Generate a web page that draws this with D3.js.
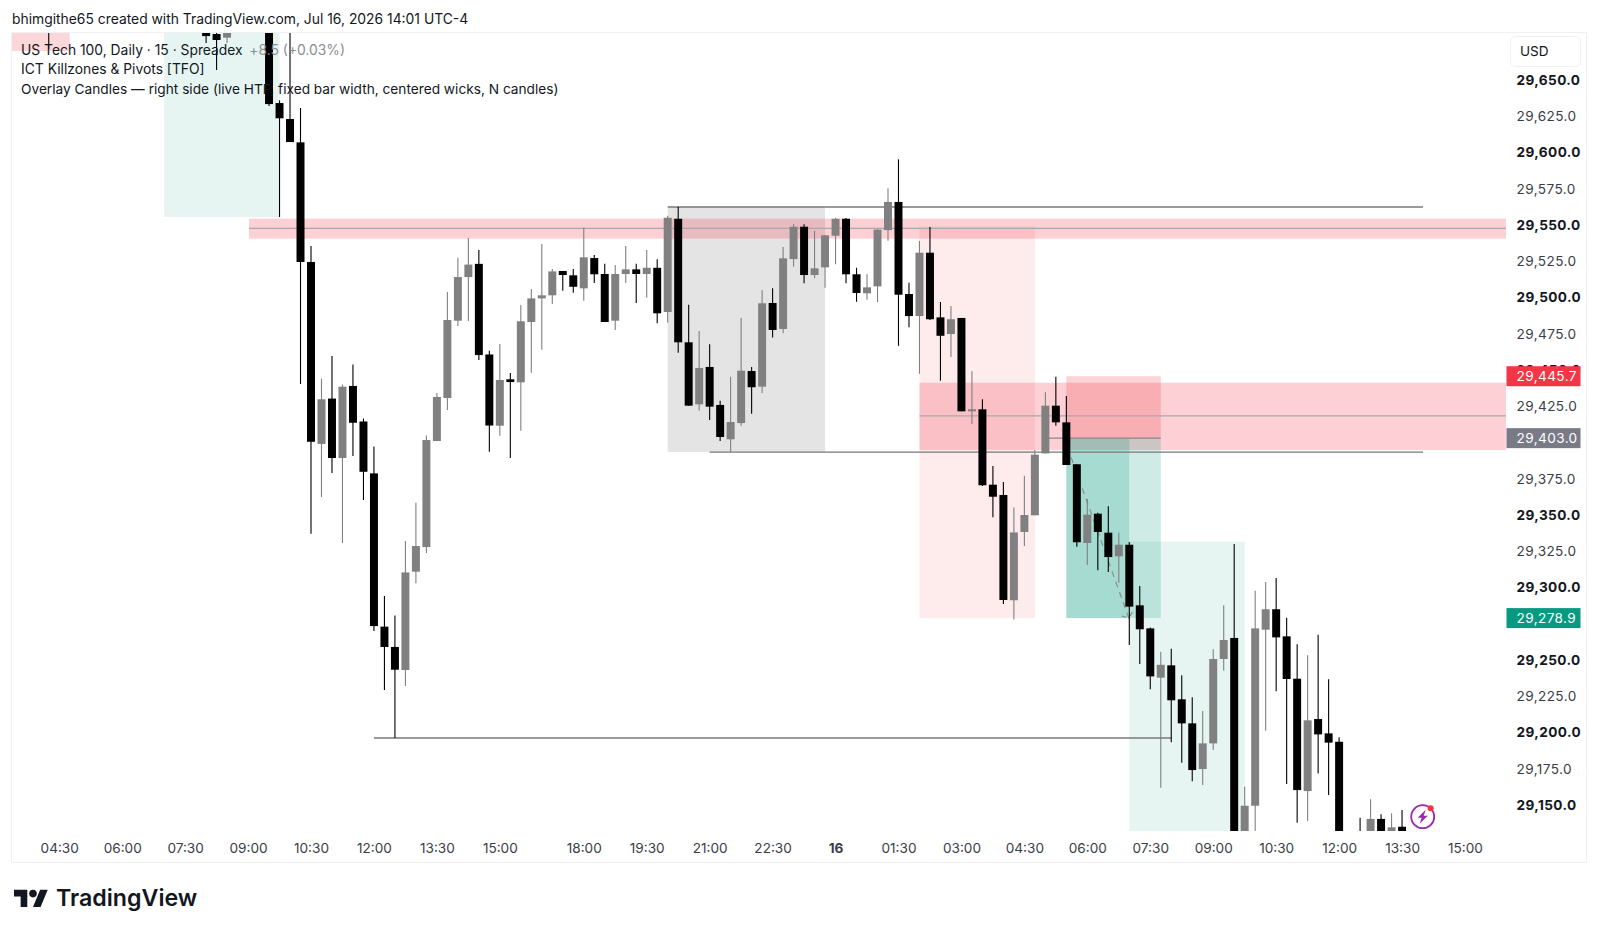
<!DOCTYPE html>
<html><head><meta charset="utf-8">
<script src="https://cdn.jsdelivr.net/npm/d3@7/dist/d3.min.js"></script>
<style>
html,body{margin:0;padding:0;background:#fff}
svg{display:block}
text{font-family:Inter,"Noto Sans",sans-serif}
</style></head><body><svg id="c" width="1600" height="933"></svg>
<script>
const barIndex=[-25,-10,-9,-8,-4,-3,-2,-1].concat(d3.range(0,105));
const opens=[29715,29700,29681.7,29679.2,29720,29634.1,29623.1,29607,
29524.5,29399,29430.3,29389.3,29439,29414.5,29378.7,29273,29259,29243.1,29310.9,29327.9,29401,29430.7,29484,29514.1,29523.2,29460.7,29411.6,29443.6,29441.5,29483.1,29499.4,29501.5,29518.3,29515.3,29506.3,29527.2,29516.2,29484,29516.2,29519.4,29516.2,29520.5,29490,29554.3,29469.1,29426.3,29452.1,29425.9,29402.2,29413.4,29449.3,29438.5,29496.2,29478.3,29526.5,29548.8,29515.5,29520.8,29542.6,29554.3,29516,29502.9,29507.7,29546.5,29565.9,29502.4,29487.2,29530.9,29486.3,29474.8,29485.9,29421.5,29422.9,29370.9,29363.8,29291.2,29338.3,29349.8,29392.5,29425.4,29413.9,29385,29330.7,29350.9,29337.8,29321.5,29329.5,29287.7,29271.8,29237.8,29246.3,29222.9,29206.3,29174.8,29192.5,29250.7,29265.2,29112,29149.5,29270.9,29285,29266.3,29237.1,29159.6,29209.3,29199.4,29193.6,29120,29120,29120,29140.4,29125,29135];
const highs=[29725,29705,29700,29695,29730,29636,29700,29630.7,
29535.5,29444,29459.6,29440,29453.8,29416.5,29397.2,29294.2,29280.7,29332,29358.4,29404.8,29434.1,29503.8,29527.5,29541,29532.8,29463.3,29467.9,29447.9,29494.8,29505.9,29536.9,29519.6,29518.3,29519.6,29548.1,29529.3,29523.3,29522.4,29535.5,29523.3,29532.8,29526.3,29556.4,29562.6,29495,29476.9,29467.7,29428.8,29445.4,29485.9,29452.1,29505.2,29506.3,29534.8,29550.7,29550.5,29545.9,29543,29555,29554.8,29520.5,29516,29547.2,29575.3,29595.3,29510.2,29539,29548.6,29496.9,29494.1,29485.9,29449.1,29429.8,29383.8,29372.7,29355.1,29377.1,29394.8,29434.6,29445.3,29432.1,29385,29361,29351.6,29356,29338,29331.4,29301,29272.5,29255.7,29257.8,29239.4,29224.3,29214.8,29257.4,29287.7,29330,29162.6,29297.8,29303.8,29306.5,29279.2,29260.8,29253.2,29267.4,29236.7,29196.7,29126,29141.2,29154,29143.6,29144.3,29146.6];
const lows=[29671.4,29675.5,29656.9,29675.5,29632.1,29555.5,29607.2,29440.3,
29337,29362.4,29379,29330.7,29390.7,29360.3,29270,29229.3,29196.2,29232,29303,29323.8,29401,29422.4,29480.3,29483.8,29456.9,29393.6,29404.7,29389.3,29408.1,29448.1,29464,29495.5,29504.7,29503.3,29497.8,29510,29483.1,29477.6,29510,29496.2,29499.9,29482.2,29482.6,29461.9,29425.4,29421.9,29415.5,29401,29393.4,29411.6,29419.9,29434.1,29472.5,29475.3,29521.2,29509.8,29513.2,29506.8,29522.9,29509.8,29497.1,29498.5,29496.9,29539.2,29466.7,29479.4,29447.4,29484.5,29442.6,29459,29421.5,29412.7,29370,29348.4,29288.6,29278,29328.6,29349.8,29392.5,29411.6,29384.5,29328.1,29315.5,29311.9,29310.7,29303.3,29260.3,29247.2,29229.8,29161.9,29193.2,29179.1,29166.3,29163.8,29187.9,29242.6,29098,29105,29119,29201.2,29228.4,29164.5,29137.8,29138.9,29171.8,29156.9,29105,29095,29110,29115,29120,29120,29120];
const closes=[29705,29680.3,29677.6,29690,29633.4,29623.6,29607.2,29524.5,
29400.5,29429.8,29389.3,29438.5,29413.6,29379.8,29273.4,29259,29243.3,29310.4,29328.6,29401.7,29431.4,29484.5,29514.1,29522.7,29460.3,29411.7,29443.1,29441.7,29483.6,29499.4,29501.5,29518,29515.5,29507.4,29527.7,29516,29483.1,29516.2,29519.4,29516.2,29520.5,29489.1,29555,29469.1,29425.4,29451.4,29424.7,29403.8,29414.1,29449.5,29438.1,29496,29477.6,29527,29548.8,29515.5,29520.1,29542.9,29554.3,29516,29503.1,29507,29546.8,29565.9,29501.9,29487.2,29530.9,29485,29473.6,29485,29421.5,29422.9,29370.5,29362.6,29291.4,29338,29350,29391.6,29425.4,29413.9,29384.5,29331.2,29350.2,29338.3,29321,29329.5,29286.8,29271.2,29238.7,29246.7,29222.2,29206.3,29174.1,29192.5,29250.7,29263.8,29112,29149.5,29271.8,29285,29265.6,29236.9,29160.3,29208.4,29198.7,29193,29112,29100,29112,29140.4,29125,29134.6,29125];

const priceTicks=[29650,29625,29600,29575,29550,29525,29500,29475,29450,29425,29400,29375,29350,29325,29300,29275,29250,29225,29200,29175,29150];
const hiddenPriceTicks=[29400,29275];
const timeTickBars=[-24,-18,-12,-6,0,6,12,18,26,32,38,44,50,56,62,68,74,80,86,92,98,104,110];
const timeTickLabels=["04:30","06:00","07:30","09:00","10:30","12:00","13:30","15:00","18:00","19:30","21:00","22:30","16","01:30","03:00","04:30","06:00","07:30","09:00","10:30","12:00","13:30","15:00"];

// zones: [bar1, bar2, priceTop, priceBottom, fill]
const zoneBar1=[-28.5,-14,34,-5.9,58,58,72,72,72,78];
const zoneBar2=[-23,-3,49,120,69,120,81,81,78,89];
const zoneTop=[29720,29720,29562.4,29554.4,29549,29441.2,29445.7,29403,29403,29331.6];
const zoneBottom=[29670,29555.5,29393.4,29540.6,29278.9,29394.9,29403,29278.9,29278.9,29000];
const zoneFill=["rgba(242,54,69,.2)","rgba(8,153,129,.1)","rgba(120,120,120,.2)","rgba(242,54,69,.23)","rgba(242,54,69,.1)","rgba(242,54,69,.23)","rgba(242,54,69,.22)","rgba(8,153,129,.2)","rgba(8,153,129,.2)","rgba(8,153,129,.1)"];
// level lines
const lineBar1=[-5.9,58,34,38,70.3,6];
const lineBar2=[120,120,106,106,81,82];
const linePrice=[29547.7,29418.3,29562.4,29393.4,29403,29196.2];
const lineColor=["#a9a9ad","#a9a9ad","#787878","#787878","#888","#787878"];
const dashBars=[72.1,77.95,78.3,77.95,77.3];
const dashPrices=[29396.9,29279,29283,29279,29280.3];

const priceTags=[{v:29445.7,c:"#f23645"},{v:29403.0,c:"#787b86"},{v:29278.9,c:"#089981"}];

const W=1600,H=933;
const x=d3.scaleLinear().domain([0,110]).range([311,1465]);
const y=d3.scaleLinear().domain([29150,29650]).range([805,80]);
const step=x(1)-x(0), bodyW=step*0.76;
const fmt=d3.format(",.1f");
const svg=d3.select("#c");
svg.append("rect").attr("width",W).attr("height",H).attr("fill","#fff");
svg.append("defs").append("clipPath").attr("id","pane").append("rect")
  .attr("x",12).attr("y",33).attr("width",1494).attr("height",798);
svg.append("rect").attr("x",11.5).attr("y",32.5).attr("width",1575).attr("height",830)
  .attr("fill","none").attr("stroke","#f0f1f4");

const pane=svg.append("g").attr("clip-path","url(#pane)");
pane.selectAll("rect.zone").data(zoneBar1).join("rect").attr("class","zone")
  .attr("x",d=>x(d)).attr("width",(d,i)=>x(zoneBar2[i])-x(d))
  .attr("y",(d,i)=>y(zoneTop[i])).attr("height",(d,i)=>y(zoneBottom[i])-y(zoneTop[i]))
  .attr("fill",(d,i)=>zoneFill[i]);
pane.selectAll("line.lvl").data(lineBar1).join("line").attr("class","lvl")
  .attr("x1",d=>x(d)).attr("x2",(d,i)=>x(lineBar2[i]))
  .attr("y1",(d,i)=>y(linePrice[i])).attr("y2",(d,i)=>y(linePrice[i]))
  .attr("stroke",(d,i)=>lineColor[i]).attr("stroke-width",1.3);
pane.append("path").attr("fill","none").attr("stroke","#8a8f8c").attr("stroke-width",1.2)
  .attr("stroke-dasharray","6,5")
  .attr("d",d3.line().x(d=>x(d[0])).y(d=>y(d[1]))(dashBars.map((b,i)=>[b,dashPrices[i]])));

const candles=pane.selectAll("g.candle").data(barIndex).join("g").attr("class","candle");
const col=i=>closes[i]>=opens[i]?"#808080":"#000";
candles.append("line")
  .attr("x1",d=>x(d)).attr("x2",d=>x(d))
  .attr("y1",(d,i)=>y(highs[i])).attr("y2",(d,i)=>y(lows[i]))
  .attr("stroke",(d,i)=>col(i)).attr("stroke-width",1.1);
candles.append("rect")
  .attr("x",d=>x(d)-bodyW/2).attr("width",bodyW)
  .attr("y",(d,i)=>y(Math.max(opens[i],closes[i])))
  .attr("height",(d,i)=>Math.max(1.5,Math.abs(y(opens[i])-y(closes[i]))))
  .attr("fill",(d,i)=>col(i));

// price axis
const axR=svg.append("g").attr("transform","translate(1516.5,0)")
  .call(d3.axisRight(y).tickValues(priceTicks.filter(t=>!hiddenPriceTicks.includes(t))).tickSize(0).tickPadding(0).tickFormat(fmt));
axR.select(".domain").remove();
axR.selectAll("text").style("font-family","Inter,sans-serif").style("font-size","13.6px").style("letter-spacing",".4px")
  .attr("fill",d=>d%50===0?"#131722":"#3a3d46")
  .style("font-weight",d=>d%50===0?"700":"400");

// tags
const tags=svg.selectAll("g.tag").data(priceTags).join("g").attr("class","tag")
  .attr("transform",d=>`translate(1506.5,${y(d.v)})`);
tags.append("rect").attr("x",0).attr("y",-10).attr("width",74).attr("height",20).attr("fill",d=>d.c);
tags.append("text").attr("x",10).attr("dy","0.35em").attr("fill","#fff").style("font-size","13.6px").style("letter-spacing",".4px").text(d=>fmt(d.v));

// time axis
const axB=svg.append("g").attr("transform","translate(0,848)")
  .call(d3.axisBottom(x).tickValues(timeTickBars).tickSize(0).tickPadding(0).tickFormat((d,i)=>timeTickLabels[i]));
axB.select(".domain").remove();
axB.selectAll("text").attr("dy","0.35em").style("font-family","Inter,sans-serif").style("font-size","13.6px")
  .attr("fill","#3a3d46").style("font-weight",d=>d===50?"700":"400");

// USD
svg.append("rect").attr("x",1510.5).attr("y",36.5).attr("width",70).attr("height",30).attr("rx",5)
  .attr("fill","#fff").attr("stroke","#f0f1f4");
svg.append("text").attr("x",1520).attr("y",51).attr("dy","0.35em").attr("fill","#131722").style("font-size","13.6px").text("USD");

// texts
svg.append("text").attr("x",12).attr("y",19).attr("dy","0.35em").attr("fill","#131722").style("font-size","13.87px")
  .text("bhimgithe65 created with TradingView.com, Jul 16, 2026 14:01 UTC-4");
const leg=svg.append("g").style("font-size","13.85px").attr("fill","#131722");
const l1=leg.append("text").attr("x",21).attr("y",50).attr("dy","0.35em");
l1.append("tspan").text("US Tech 100, Daily · 15 · Spreadex");
l1.append("tspan").attr("dx",7).attr("fill","#8a8d96").text("+8.5 (+0.03%)");
leg.append("text").attr("x",21).attr("y",69.5).attr("dy","0.35em").text("ICT Killzones & Pivots [TFO]");
leg.append("text").attr("x",21).attr("y",89).attr("dy","0.35em").style("font-size","13.7px").text("Overlay Candles — right side (live HTF, fixed bar width, centered wicks, N candles)");

// lightning badge
const b=svg.append("g").attr("transform","translate(1422.7,816.7)");
b.append("circle").attr("r",11.5).attr("fill","#fff").attr("stroke","#9c27b0").attr("stroke-width",1.8);
b.append("path").attr("d","M3,-7 L-5,1 L-1,1 L-3,7 L5,-1 L1,-1 Z").attr("fill","#9c27b0");
b.append("circle").attr("cx",8).attr("cy",-8.5).attr("r",3).attr("fill","#f23645");

// logo
const logo=svg.append("g").attr("transform","translate(14,886) scale(.95)").attr("fill","#131722");
logo.append("path").attr("d","M14 22H7V11H0V4h14v18zM28 22h-8l7.5-18h8L28 22z");
logo.append("circle").attr("cx",20).attr("cy",8).attr("r",4);
svg.append("text").attr("x",56).attr("y",898).attr("dy","0.35em").attr("fill","#131722")
  .style("font-size","23.2px").style("font-weight","600").text("TradingView");
</script></body></html>
